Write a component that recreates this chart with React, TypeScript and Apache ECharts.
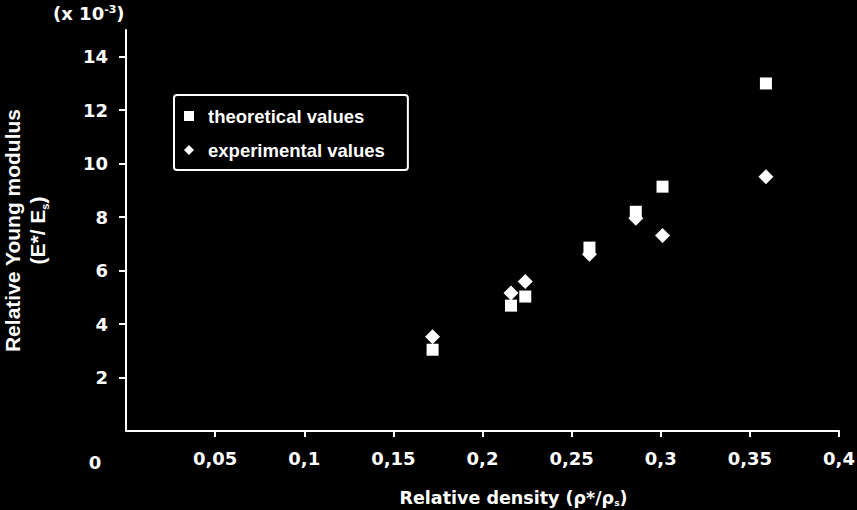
import React, { useEffect, useRef } from "react";
import * as echarts from "echarts";

const xTicks = [0.05, 0.1, 0.15, 0.2, 0.25, 0.3, 0.35, 0.4];
const yTicks = [2, 4, 6, 8, 10, 12, 14];
const density = [0.172, 0.216, 0.224, 0.26, 0.286, 0.301, 0.359];
const theoretical = [3.04, 4.69, 5.03, 6.86, 8.2, 9.14, 13.0];
const experimental = [3.53, 5.16, 5.59, 6.61, 7.96, 7.31, 9.51];
const seriesNames = ["theoretical values", "experimental values"];

const tickFont = "DejaVu Sans";
const arialFont = "Liberation Sans";

export default function App() {
  const ref = useRef<HTMLDivElement>(null);
  useEffect(() => {
    if (!ref.current) return;
    const chart = echarts.init(ref.current, null, { renderer: "svg" });
    const theoData = density.map((x, i) => [x, theoretical[i]]);
    const expData = density.map((x, i) => [x, experimental[i]]);
    chart.setOption({
      animation: false,
      backgroundColor: "#000000",
      grid: {
        left: 126,
        right: 18,
        top: 30,
        bottom: 79,
        containLabel: false,
        outerBoundsMode: "none",
      },
      legend: {
        orient: "vertical",
        left: 174,
        top: 95,
        padding: [10, 23, 9, 10],
        itemGap: 12,
        itemWidth: 10,
        itemHeight: 10,
        borderColor: "#ffffff",
        borderWidth: 2,
        borderRadius: 3,
        data: [
          { name: seriesNames[0], icon: "rect" },
          { name: seriesNames[1], icon: "diamond" },
        ],
        textStyle: {
          color: "#ffffff",
          fontFamily: arialFont,
          fontWeight: "bold",
          fontSize: 18.5,
          lineHeight: 22,
          padding: [0, 0, 0, 9],
        },
      },
      xAxis: {
        type: "value",
        min: 0,
        max: 0.4,
        interval: 0.05,
        splitLine: { show: false },
        axisLine: { show: true, lineStyle: { color: "#ffffff", width: 2 } },
        axisTick: {
          show: true,
          length: 6,
          lineStyle: { color: "#ffffff", width: 2 },
          customValues: xTicks,
        },
        axisLabel: {
          color: "#ffffff",
          fontFamily: tickFont,
          fontWeight: "bold",
          fontSize: 18,
          margin: 18,
          customValues: xTicks,
          formatter: (v: number) => String(v).replace(".", ","),
        },
        name: "Relative density (ρ*/ρ{s|s})",
        nameLocation: "middle",
        nameGap: 58,
        nameTextStyle: {
          color: "#ffffff",
          fontFamily: tickFont,
          fontWeight: "bold",
          fontSize: 17.5,
          padding: [0, 0, 0, 62],
          rich: {
            s: {
              color: "#ffffff",
              fontFamily: tickFont,
              fontWeight: "bold",
              fontSize: 9,
              verticalAlign: "bottom",
              padding: [8, 0, 0, 0],
            },
          },
        },
      },
      yAxis: {
        type: "value",
        min: 0,
        max: 15,
        interval: 1,
        splitLine: { show: false },
        axisLine: { show: true, lineStyle: { color: "#ffffff", width: 2 } },
        axisTick: {
          show: true,
          length: 7,
          lineStyle: { color: "#ffffff", width: 2 },
          customValues: yTicks,
        },
        axisLabel: {
          color: "#ffffff",
          fontFamily: tickFont,
          fontWeight: "bold",
          fontSize: 18,
          margin: 18,
          customValues: yTicks,
        },
        name: "Relative Young modulus\n(E*/ E{s|s})",
        nameLocation: "middle",
        nameRotate: 90,
        nameGap: 76,
        nameTextStyle: {
          color: "#ffffff",
          fontFamily: arialFont,
          fontWeight: "bold",
          fontSize: 21,
          lineHeight: 25,
          rich: {
            s: {
              color: "#ffffff",
              fontFamily: arialFont,
              fontWeight: "bold",
              fontSize: 11,
              lineHeight: 25,
              verticalAlign: "bottom",
            },
          },
        },
      },
      graphic: [
        {
          type: "text",
          left: 53,
          top: 4,
          style: {
            text: "(x 10{sup|-3})",
            fill: "#ffffff",
            fontFamily: tickFont,
            fontWeight: "bold",
            fontSize: 18,
            rich: {
              sup: {
                fill: "#ffffff",
                fontFamily: tickFont,
                fontWeight: "bold",
                fontSize: 11,
                verticalAlign: "top",
                padding: [0, 0, 8, 0],
              },
            },
          },
        },
        {
          type: "text",
          x: 95,
          y: 462,
          style: {
            text: "0",
            fill: "#ffffff",
            fontFamily: tickFont,
            fontWeight: "bold",
            fontSize: 18,
            align: "center",
            verticalAlign: "middle",
          },
        },
      ],
      series: [
        {
          name: seriesNames[0],
          type: "scatter",
          symbol: "rect",
          symbolSize: 12,
          itemStyle: { color: "#ffffff", opacity: 1 },
          data: theoData,
        },
        {
          name: seriesNames[1],
          type: "scatter",
          symbol: "diamond",
          symbolSize: 15,
          itemStyle: { color: "#ffffff", opacity: 1 },
          data: expData,
        },
      ],
    });
    return () => chart.dispose();
  }, []);
  return (
    <div
      ref={ref}
      style={{ position: "fixed", left: 0, top: 0, width: 857, height: 510, background: "#000" }}
    />
  );
}
